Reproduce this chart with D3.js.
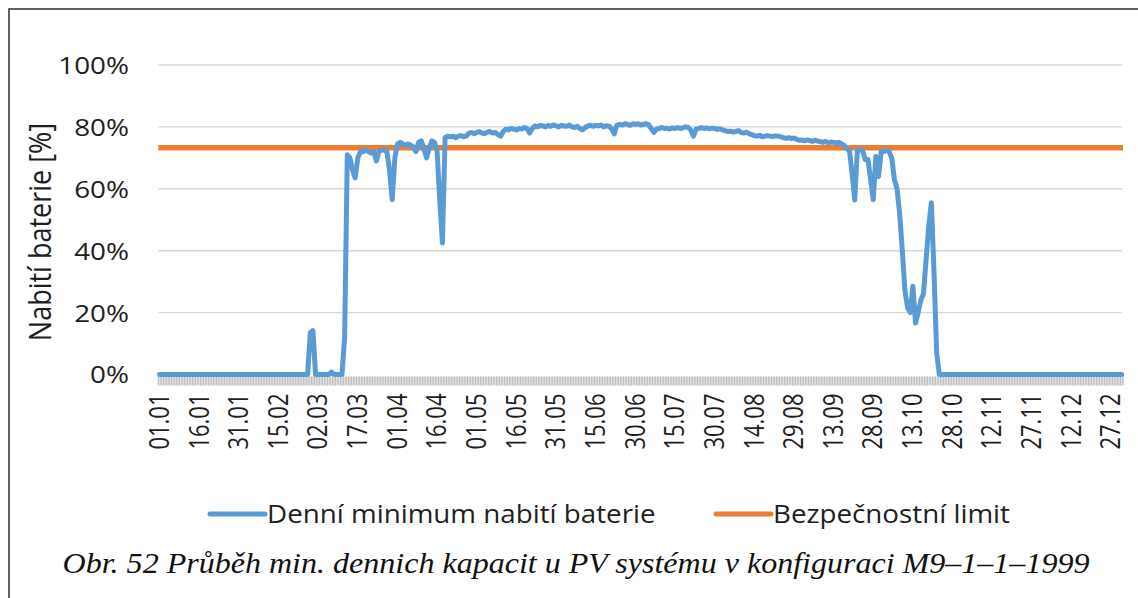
<!DOCTYPE html>
<html>
<head>
<meta charset="utf-8">
<script src="https://cdn.jsdelivr.net/npm/d3@7"></script>
<style>
  html, body { margin: 0; padding: 0; background: #fff; }
  svg { display: block; }
</style>
</head>
<body>
<svg id="chart" width="1138" height="598"></svg>
<script>
// Daily minimum battery charge [%] for 1999, one value per day (01.01 … 31.12)
const dailyMin = [
  0, 0, 0, 0, 0, 0, 0, 0, 0, 0, 0, 0, 0, 0, 0,
  0, 0, 0, 0, 0, 0, 0, 0, 0, 0, 0, 0, 0, 0, 0,
  0, 0, 0, 0, 0, 0, 0, 0, 0, 0, 0, 0, 0, 0, 0,
  0, 0, 0, 0, 0, 0, 0, 0, 0, 0, 0, 0, 13.5, 14.2, 0,
  0, 0, 0, 0, 0, 0.8, 0, 0, 0, 0, 12, 71, 70, 66, 63.5,
  70, 72, 72, 72.5, 72, 71.5, 72, 69, 72, 72.5, 72.5, 72, 66, 56.5, 70,
  74.5, 75, 74.5, 74, 74.5, 74, 73.5, 72, 75, 75.5, 73, 70, 73, 75.5, 75,
  72, 56, 42.5, 76.5, 77, 76.8, 77, 76.5, 77, 77.2, 76.8, 77, 78, 78.2, 77.8,
  78.2, 78.5, 78, 77.8, 78.3, 78.5, 78, 78.2, 77.5, 77, 78.5, 79.3, 79, 79.5, 79.3,
  79, 79.5, 79.3, 79.8, 79.5, 78, 79.5, 80.3, 80, 80.5, 80.3, 80, 80.5, 80.2, 80.6,
  80.3, 80, 80.5, 80.3, 80.2, 80.6, 80, 79.8, 80.2, 79.5, 79, 79.8, 80.3, 80.5, 80.2,
  80.5, 80.3, 80.6, 80, 80.4, 80.2, 79.5, 77.7, 80.5, 80.8, 80.6, 81, 80.8, 80.5, 81,
  80.8, 81, 80.6, 80.8, 81, 80.7, 79.5, 78.2, 79.3, 79.5, 79.8, 79.5, 79.6, 79.3, 79.7,
  79.5, 79.8, 79.5, 79.7, 80, 79.8, 79, 77, 79.3, 79.5, 79.8, 79.5, 79.7, 79.4, 79.6,
  79.5, 79.2, 79.4, 79, 78.8, 78.5, 78.6, 78.3, 78.5, 78.8, 78.2, 78, 78.3, 77.8, 77.5,
  77.2, 77, 77.3, 76.8, 77, 77.2, 77, 76.9, 77.1, 77, 76.8, 76.5, 76.3, 76.5, 76.2,
  76.4, 76, 75.7, 75.8, 75.5, 75.8, 75.6, 75.3, 75.7, 75.4, 75.2, 75, 75.3, 74.9, 75.1,
  75, 74.8, 75, 74.5, 74, 73, 72.3, 65, 56.4, 72.5, 72.5, 72.3, 69.4, 69.5, 63,
  56.5, 70.4, 64, 72, 72, 72.5, 72, 70, 63, 60, 52, 40, 27, 21.5, 20,
  28.5, 16.6, 20, 24, 26, 37, 48, 55.5, 33, 7, 0, 0, 0, 0, 0,
  0, 0, 0, 0, 0, 0, 0, 0, 0, 0, 0, 0, 0, 0, 0,
  0, 0, 0, 0, 0, 0, 0, 0, 0, 0, 0, 0, 0, 0, 0,
  0, 0, 0, 0, 0, 0, 0, 0, 0, 0, 0, 0, 0, 0, 0,
  0, 0, 0, 0, 0, 0, 0, 0, 0, 0, 0, 0, 0, 0, 0,
  0, 0, 0, 0, 0
];

// Safety limit of the battery charge [%]
const safetyLimit = 73.3;

// Category axis: days of 1999, labelled every 15 days
const days = d3.timeDay.range(new Date(1999, 0, 1), new Date(2000, 0, 1));
const tickLabels = ["01.01", "16.01", "31.01", "15.02", "02.03", "17.03", "01.04",
  "16.04", "01.05", "16.05", "31.05", "15.06", "30.06", "15.07", "30.07", "14.08",
  "29.08", "13.09", "28.09", "13.10", "28.10", "12.11", "27.11", "12.12", "27.12"];
const yTicks = [0, 20, 40, 60, 80, 100];

const seriesNames = ["Denní minimum nabití baterie", "Bezpečnostní limit"];
const colors = ["#5b9bd5", "#ed7d31"];
const yTitle = "Nabití baterie [%]";
const caption = "Obr. 52 Průběh min. dennich kapacit u PV systému v konfiguraci M9–1–1–1999";

const fmt = d3.timeFormat("%d.%m");
const labelSet = new Set(tickLabels);
const sans = "'Open Sans', sans-serif";
const textColor = "#1e1e1e";

const svg = d3.select("#chart");
const plot = { left: 158.3, right: 1123, top: 65, bottom: 374.5 };

const x = d3.scaleBand()
  .domain(d3.range(days.length))
  .range([plot.left, plot.right])
  .paddingInner(0).paddingOuter(0);
const xc = i => x(i) + x.bandwidth() / 2;
const y = d3.scaleLinear().domain([0, 100]).range([plot.bottom, plot.top]);

// Outer frame
svg.append("rect")
  .attr("x", 9).attr("y", 9)
  .attr("width", 1200).attr("height", 700)
  .attr("fill", "none").attr("stroke", "#3a3a3a").attr("stroke-width", 1.6);

// Horizontal gridlines
svg.append("g")
  .selectAll("line")
  .data(yTicks.filter(t => t > 0))
  .join("line")
  .attr("x1", plot.left).attr("x2", plot.right - 1)
  .attr("y1", d => y(d)).attr("y2", d => y(d))
  .attr("stroke", "#d6d6d6").attr("stroke-width", 1.4);

// Y axis labels
const yAxis = d3.axisLeft(y).tickValues(yTicks).tickFormat(d => d + "%").tickSize(0).tickPadding(0);
const gy = svg.append("g").attr("transform", "translate(129,0)").call(yAxis);
gy.select(".domain").remove();
gy.selectAll("text")
  .attr("font-family", sans)
  .attr("font-size", 24)
  .attr("fill", textColor)
  .attr("dy", "0.35em")
  .attr("transform", "scale(1.16,1)");

// Category axis: a tick at every day boundary forms the grey band
svg.append("rect")
  .attr("x", plot.left).attr("y", plot.bottom + 2)
  .attr("width", plot.right - plot.left).attr("height", 9)
  .attr("fill", "#e2e2e2");
svg.append("g").selectAll("line")
  .data(d3.range(days.length + 1))
  .join("line")
  .attr("x1", i => i < days.length ? x(i) : plot.right)
  .attr("x2", i => i < days.length ? x(i) : plot.right)
  .attr("y1", plot.bottom + 2).attr("y2", plot.bottom + 11)
  .attr("stroke", "#bdbdbd").attr("stroke-width", 1.2);

// Rotated date labels
const xAxis = d3.axisBottom(x)
  .tickValues(d3.range(days.length).filter(i => labelSet.has(fmt(days[i]))))
  .tickFormat(i => fmt(days[i]))
  .tickSize(0);
const gx = svg.append("g").attr("transform", `translate(0,${plot.bottom})`).call(xAxis);
gx.select(".domain").remove();
gx.selectAll("text")
  .attr("font-family", sans)
  .attr("font-size", 22)
  .attr("fill", textColor)
  .attr("transform", "rotate(-90) scale(1,1.2)")
  .attr("text-anchor", "end")
  .attr("x", -19)
  .attr("y", 0)
  .attr("dy", "0.35em");

// Y axis title
svg.append("text")
  .attr("transform", "translate(40,232) rotate(-90) scale(1,1.12)")
  .attr("text-anchor", "middle")
  .attr("dy", "0.35em")
  .attr("font-family", sans)
  .attr("font-size", 27)
  .attr("fill", textColor)
  .text(yTitle);

// Safety limit line
svg.append("line")
  .attr("x1", plot.left).attr("x2", plot.right)
  .attr("y1", y(safetyLimit)).attr("y2", y(safetyLimit))
  .attr("stroke", colors[1]).attr("stroke-width", 5.5);

// Daily minimum line
const line = d3.line()
  .x((d, i) => xc(i))
  .y(d => y(d));
svg.append("path")
  .datum(dailyMin)
  .attr("d", line)
  .attr("fill", "none")
  .attr("stroke", colors[0])
  .attr("stroke-width", 5)
  .attr("stroke-linejoin", "round")
  .attr("stroke-linecap", "round");

// Legend
const legendItems = [
  { name: seriesNames[0], color: colors[0], x: 210 },
  { name: seriesNames[1], color: colors[1], x: 716 }
];
const lg = svg.append("g").selectAll("g").data(legendItems).join("g")
  .attr("transform", d => `translate(${d.x},514)`);
lg.append("line")
  .attr("x1", 0).attr("x2", 55).attr("y1", 0).attr("y2", 0)
  .attr("stroke", d => d.color).attr("stroke-width", 5)
  .attr("stroke-linecap", "round");
lg.append("text")
  .attr("transform", "translate(57,0) scale(1.11,1)")
  .attr("dy", "0.35em")
  .attr("font-family", sans)
  .attr("font-size", 25)
  .attr("fill", textColor)
  .text(d => d.name);

// Figure caption
svg.append("text")
  .attr("transform", "translate(576,573) scale(1.105,1)")
  .attr("text-anchor", "middle")
  .attr("font-family", "'Liberation Serif', 'Times New Roman', serif")
  .attr("font-style", "italic")
  .attr("font-size", 29)
  .attr("fill", "#111")
  .text(caption);
</script>
</body>
</html>
